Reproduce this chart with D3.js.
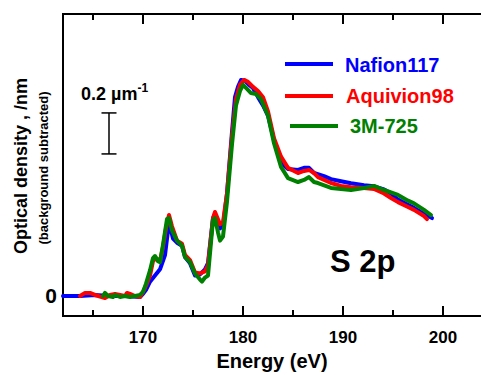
<!DOCTYPE html>
<html><head><meta charset="utf-8">
<script src="https://cdn.jsdelivr.net/npm/d3@7"></script>
<style>body{margin:0;background:#fff}svg{display:block}text{font-family:"Liberation Sans",Arial,sans-serif;font-weight:bold}</style>
</head><body><svg id="c" width="481" height="375"></svg>
<script>
const seriesNames = ["Nafion117","Aquivion98","3M-725"];
const seriesColors = ["#0000ff","#ff0000","#008000"];
const nafion117 = [[162.0,0.0],[163.7,0.0],[165.2,0.005],[166.7,0.0],[168.2,0.0],[169.7,-0.005],[170.0,0.01],[170.3,0.03],[170.7,0.07],[171.2,0.10],[171.7,0.13],[172.2,0.20],[172.6,0.36],[173.0,0.28],[173.4,0.26],[173.9,0.245],[174.2,0.19],[174.7,0.16],[175.2,0.10],[175.7,0.105],[176.2,0.13],[176.5,0.16],[177.0,0.38],[177.2,0.40],[177.7,0.33],[178.0,0.34],[178.4,0.50],[178.9,0.80],[179.2,0.97],[179.5,1.02],[179.8,1.054],[180.2,1.05],[180.6,1.03],[181.0,1.015],[181.5,0.97],[182.0,0.93],[182.5,0.88],[183.1,0.76],[183.8,0.65],[184.5,0.62],[185.5,0.615],[186.1,0.625],[186.6,0.625],[187.1,0.60],[188.1,0.585],[188.8,0.57],[189.8,0.56],[190.8,0.55],[192.1,0.54],[193.1,0.535],[194.1,0.52],[194.8,0.50],[195.5,0.47],[196.5,0.445],[197.1,0.43],[198.1,0.40],[198.9,0.38]];
const aquivion98 = [[163.7,0.0],[164.2,0.015],[164.7,0.015],[165.2,0.005],[166.2,-0.01],[166.7,0.005],[167.2,0.01],[168.2,0.0],[168.4,0.015],[168.7,0.01],[169.2,0.0],[169.7,-0.005],[170.0,0.02],[170.3,0.05],[170.7,0.10],[171.0,0.17],[171.3,0.185],[171.7,0.17],[172.0,0.24],[172.3,0.33],[172.6,0.395],[172.9,0.34],[173.4,0.27],[173.9,0.255],[174.2,0.20],[174.7,0.175],[175.2,0.115],[175.7,0.11],[176.2,0.12],[176.5,0.15],[177.0,0.38],[177.2,0.41],[177.7,0.35],[178.0,0.36],[178.4,0.50],[178.9,0.78],[179.3,0.96],[179.7,1.03],[180.1,1.054],[180.5,1.045],[181.0,1.02],[181.5,1.00],[182.0,0.97],[182.5,0.90],[183.1,0.77],[183.8,0.68],[184.5,0.625],[185.5,0.60],[186.1,0.61],[186.6,0.615],[187.1,0.60],[187.5,0.58],[188.8,0.551],[189.8,0.537],[190.8,0.531],[192.1,0.527],[193.1,0.522],[194.1,0.50],[194.8,0.478],[195.5,0.458],[196.5,0.434],[197.1,0.42],[198.1,0.39],[198.4,0.375]];
const m3_725 = [[166.0,0.0],[166.2,0.015],[166.5,0.0],[167.0,-0.005],[167.2,0.005],[167.7,-0.005],[168.2,0.0],[168.7,-0.005],[169.2,0.0],[169.7,0.005],[170.0,0.02],[170.3,0.06],[170.7,0.125],[171.0,0.185],[171.2,0.195],[171.5,0.17],[171.7,0.165],[172.0,0.25],[172.4,0.375],[172.6,0.38],[172.9,0.32],[173.4,0.27],[173.9,0.245],[174.2,0.19],[174.7,0.165],[175.2,0.11],[175.7,0.08],[175.9,0.07],[176.2,0.09],[176.5,0.10],[177.0,0.37],[177.2,0.38],[177.5,0.31],[177.7,0.27],[178.0,0.29],[178.4,0.46],[178.9,0.74],[179.3,0.93],[179.7,1.00],[180.0,1.03],[180.4,1.01],[180.8,0.99],[181.3,0.985],[181.8,0.96],[182.5,0.88],[183.1,0.745],[183.8,0.63],[184.5,0.575],[185.5,0.556],[186.1,0.566],[186.6,0.58],[187.1,0.556],[187.5,0.551],[188.8,0.527],[189.8,0.522],[190.8,0.517],[192.1,0.527],[193.1,0.537],[194.1,0.517],[194.8,0.505],[195.5,0.493],[196.5,0.465],[197.1,0.452],[198.1,0.42],[198.8,0.395]];
const zeroMark = [[162.0,0.0],[163.7,0.0]];
const xMajorTicks = [170,180,190,200];
const xMinorTicks = [165,175,185,195];
const scaleBar = [0.693,0.893];

const svg = d3.select("#c");
const L=63, T=14, B=316, R=483;
const x = d3.scaleLinear().domain([162,204]).range([L,R]);
const y = d3.scaleLinear().domain([-0.0976,1.3756]).range([B,T]);

// frame
svg.append("path").attr("d",`M${R},${T}H${L}V${B}H${R}`).attr("fill","none").attr("stroke","#000").attr("stroke-width",2);

// ticks
const tk = svg.append("g").attr("stroke","#000").attr("stroke-width",2);
xMajorTicks.forEach(v=>{
  tk.append("line").attr("x1",x(v)).attr("x2",x(v)).attr("y1",B).attr("y2",B-10);
  tk.append("line").attr("x1",x(v)).attr("x2",x(v)).attr("y1",T).attr("y2",T+10);
});
xMinorTicks.forEach(v=>{
  tk.append("line").attr("x1",x(v)).attr("x2",x(v)).attr("y1",B).attr("y2",B-6);
  tk.append("line").attr("x1",x(v)).attr("x2",x(v)).attr("y1",T).attr("y2",T+6);
});
xMajorTicks.forEach(v=>{
  svg.append("text").attr("x",x(v)).attr("y",343).attr("text-anchor","middle").attr("font-size",17).text(v);
});
svg.append("text").attr("x",57).attr("y",y(0)+7.5).attr("text-anchor","end").attr("font-size",21).text("0");

// curves
const line = d3.line().x(d=>x(d[0])).y(d=>y(d[1]));
svg.append("path").datum(zeroMark).attr("d",line).attr("fill","none").attr("stroke","#000").attr("stroke-width",4);
[nafion117,aquivion98,m3_725].forEach((s,i)=>{
  svg.append("path").datum(s).attr("d",line).attr("fill","none").attr("stroke",seriesColors[i])
    .attr("stroke-width",4).attr("stroke-linejoin","round").attr("stroke-linecap","round");
});

// legend
const legY=[64,96,126], legX=[[285,333,345],[285,333,346],[290,338,350]], legBase=[72,103,133];
seriesNames.forEach((n,i)=>{
  svg.append("line").attr("x1",legX[i][0]).attr("x2",legX[i][1]).attr("y1",legY[i]).attr("y2",legY[i])
    .attr("stroke",seriesColors[i]).attr("stroke-width",4);
  svg.append("text").attr("x",legX[i][2]).attr("y",legBase[i]).attr("font-size",20).attr("fill",seriesColors[i]).text(n);
});

// scale bar
const sbx=109;
const sb = svg.append("g").attr("stroke","#000").attr("stroke-width",1.5);
sb.append("line").attr("x1",sbx).attr("x2",sbx).attr("y1",y(scaleBar[0])).attr("y2",y(scaleBar[1]));
sb.append("line").attr("x1",sbx-7.5).attr("x2",sbx+7.5).attr("y1",y(scaleBar[0])).attr("y2",y(scaleBar[0]));
sb.append("line").attr("x1",sbx-7.5).attr("x2",sbx+7.5).attr("y1",y(scaleBar[1])).attr("y2",y(scaleBar[1]));
const st = svg.append("text").attr("x",81).attr("y",100).attr("font-size",18);
st.append("tspan").text("0.2 \u00b5m");
st.append("tspan").attr("font-size",12).attr("dy",-8).text("-1");

// labels
svg.append("text").attr("x",330).attr("y",272).attr("font-size",31).text("S 2p");
svg.append("text").attr("x",272).attr("y",368).attr("text-anchor","middle").attr("font-size",20).text("Energy (eV)");
svg.append("text").attr("transform","translate(27,166) rotate(-90)").attr("text-anchor","middle").attr("font-size",18).text("Optical density , /nm");
svg.append("text").attr("transform","translate(48,168) rotate(-90)").attr("text-anchor","middle").attr("font-size",13).text("(background subtracted)");
</script></body></html>
